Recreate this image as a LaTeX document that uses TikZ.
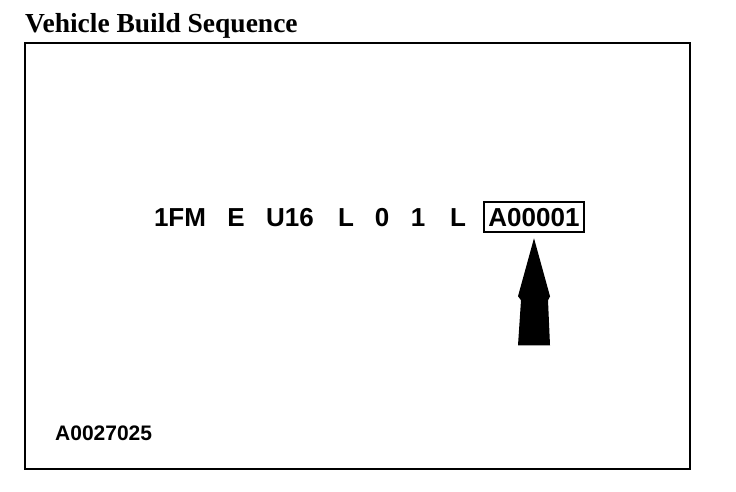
\documentclass[tikz,border=0pt]{standalone}
\usepackage{fontspec}
\setmainfont{Liberation Serif}
\setsansfont{Liberation Sans}
\usetikzlibrary{positioning}
\tikzset{
  title/.style={font=\bfseries\fontsize{27.5}{30}\selectfont, anchor=base west, inner sep=0pt},
  code/.style={font=\sffamily\bfseries\fontsize{26}{30}\selectfont, anchor=base, inner sep=0pt},
  codebox/.style={code, draw, line width=2pt, inner xsep=4pt, inner ysep=6pt},
  figno/.style={font=\sffamily\bfseries\fontsize{21}{24}\selectfont, anchor=base west, inner sep=0pt},
  frame/.style={draw, line width=2pt},
  pointer/.style={fill=black}
}

\begin{document}
\begin{tikzpicture}[x=1pt, y=-1pt]
\useasboundingbox (0,0) rectangle (736,492);
\node[title] (head) at (25,33) {Vehicle Build Sequence};
\draw[frame] (25,43) rectangle (690,469);

% the build code
\node[code] (wmi) at (180,226) {1FM};
\node[code] (brake) at (236,226) {E};
\node[code] (model) at (290,226) {U16};
\node[code] (engine) at (346,226) {L};
\node[code] (check) at (382,226) {0};
\node[code] (year) at (418,226) {1};
\node[code] (plant) at (458,226) {L};
\node[codebox] (serial) at (534,226) {A00001};

% pointer to the sequence number
\fill[pointer] ([yshift=-5pt]serial.south) -- ++(-16,58) -- ++(3,4) -- ++(-3,45)
  -- ++(32,0) -- ++(-2,-45) -- ++(2,-4) -- cycle;

\node[figno] (figid) at (55,440) {A0027025};
\end{tikzpicture}
\end{document}
